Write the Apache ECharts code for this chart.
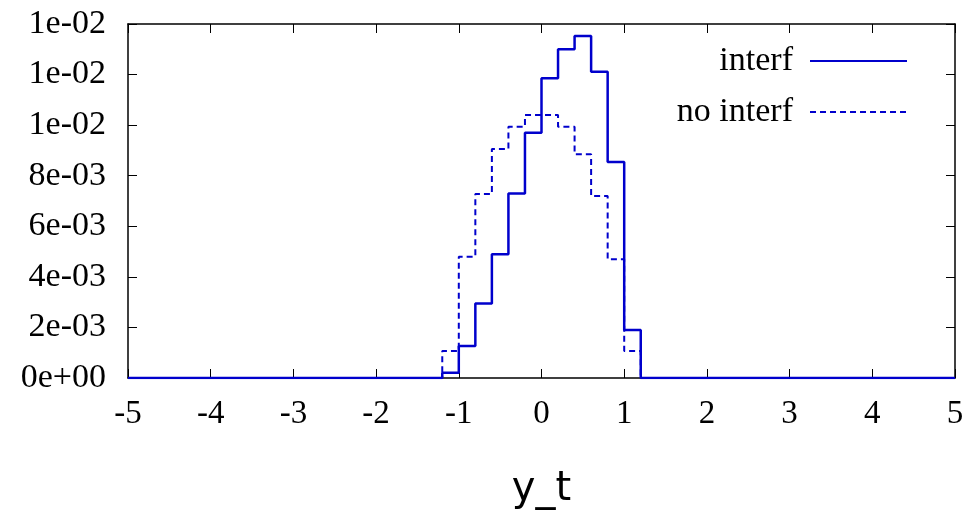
<!DOCTYPE html>
<html>
<head>
<meta charset="utf-8">
<script src="https://cdn.jsdelivr.net/npm/echarts@6/dist/echarts.min.js"></script>
<style>
  html, body { margin: 0; padding: 0; background: #fff; }
  #main { width: 971px; height: 514px; }
</style>
</head>
<body>
<div id="main"></div>
<script>
// bin edges (left edge of each bin), last entry is right edge of last bin
const binEdges = [-1.2, -1.0, -0.8, -0.6, -0.4, -0.2, 0.0, 0.2, 0.4, 0.6, 0.8, 1.0, 1.2];
const interf = [0.00021, 0.00127, 0.00295, 0.00489, 0.00730, 0.00970, 0.01185, 0.01300, 0.01353, 0.01211, 0.00854, 0.00190];
const noInterf = [0.00107, 0.00480, 0.00728, 0.00906, 0.00994, 0.01040, 0.01040, 0.00994, 0.00885, 0.00720, 0.00470, 0.00107];
const xRange = [-5, 5];

// step data: flat zero outside the binned region
function stepData (vals) {
  const d = [[xRange[0], 0]];
  vals.forEach((v, i) => d.push([binEdges[i], v]));
  d.push([binEdges[binEdges.length - 1], 0]);
  d.push([xRange[1], 0]);
  return d;
}

// gnuplot style "%.0e" -> 1e-02
function expFmt (v) {
  const s = v.toExponential(0);
  const m = s.match(/^(-?\d)e([+-])(\d+)$/);
  if (!m) return s;
  return m[1] + 'e' + m[2] + (m[3].length < 2 ? '0' + m[3] : m[3]);
}

const serif = '"Liberation Serif", "DejaVu Serif", serif';
const blue = '#0000cc';

const myChart = echarts.init(document.getElementById('main'));
const option = {
  animation: false,
  backgroundColor: '#fff',
  grid: { left: 128, right: 16, top: 24, bottom: 136, outerBoundsMode: 'none', containLabel: false },
  legend: {
    orient: 'vertical',
    right: 58,
    top: 39,
    align: 'right',
    itemWidth: 97,
    itemHeight: 34,
    itemGap: 17,
    itemStyle: { opacity: 0 },
    textStyle: { fontFamily: serif, fontSize: 34, color: '#000', padding: [0, 12, 0, 0] },
    data: ['interf', 'no interf']
  },
  xAxis: [
    {
      type: 'value',
      min: -5,
      max: 5,
      interval: 1,
      name: 'y_t',
      nameLocation: 'middle',
      nameGap: 92,
      nameTextStyle: { fontFamily: '"DejaVu Sans", sans-serif', fontSize: 40, color: '#000' },
      axisLine: { onZero: false, lineStyle: { color: '#000', width: 1.5 } },
      axisTick: { inside: true, length: 9, lineStyle: { color: '#000' } },
      axisLabel: { fontFamily: serif, fontSize: 33, color: '#000', margin: 20 },
      splitLine: { show: false }
    },
    {
      type: 'value',
      position: 'top',
      min: -5,
      max: 5,
      interval: 1,
      axisLine: { onZero: false, lineStyle: { color: '#000', width: 1.5 } },
      axisTick: { inside: true, length: 9, lineStyle: { color: '#000' } },
      axisLabel: { show: false },
      splitLine: { show: false }
    }
  ],
  yAxis: [
    {
      type: 'value',
      min: 0,
      max: 0.014,
      interval: 0.002,
      axisLine: { show: true, onZero: false, lineStyle: { color: '#000', width: 1.5 } },
      axisTick: { show: true, inside: true, length: 9, lineStyle: { color: '#000' } },
      axisLabel: { fontFamily: serif, fontSize: 34, color: '#000', margin: 22, formatter: expFmt },
      splitLine: { show: false }
    },
    {
      type: 'value',
      position: 'right',
      min: 0,
      max: 0.014,
      interval: 0.002,
      axisLine: { show: true, onZero: false, lineStyle: { color: '#000', width: 1.5 } },
      axisTick: { show: true, inside: true, length: 9, lineStyle: { color: '#000' } },
      axisLabel: { show: false },
      splitLine: { show: false }
    }
  ],
  series: [
    {
      name: 'interf',
      type: 'line',
      step: 'end',
      symbol: 'none',
      color: blue,
      lineStyle: { color: blue, width: 2.5 },
      data: stepData(interf)
    },
    {
      name: 'no interf',
      type: 'line',
      step: 'end',
      symbol: 'none',
      color: blue,
      lineStyle: { color: blue, width: 2, type: [6, 4] },
      data: stepData(noInterf)
    }
  ]
};
myChart.setOption(option);
</script>
</body>
</html>
